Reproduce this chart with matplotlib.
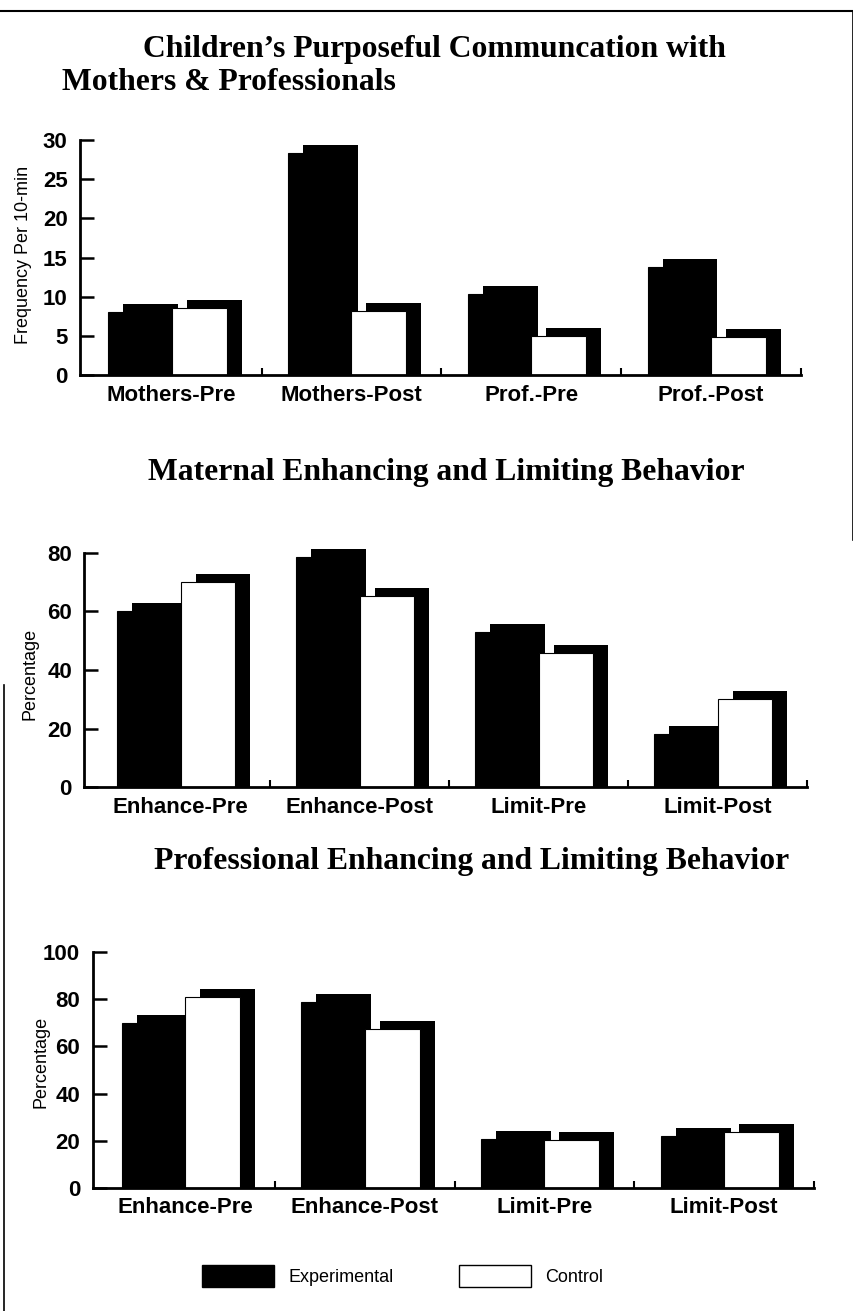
import numpy as np
import matplotlib
matplotlib.use('Agg')
import matplotlib.pyplot as plt
from matplotlib.transforms import ScaledTranslation
from matplotlib.patches import Patch
from matplotlib.lines import Line2D

W, H, DPI = 854, 1311, 100

# data
mother_groups = ['Mothers-Pre', 'Mothers-Post', 'Prof.-Pre', 'Prof.-Post']
comm_exp = [8.1, 28.3, 10.3, 13.8]
comm_ctl = [8.6, 8.2, 5.0, 4.9]

behav_groups = ['Enhance-Pre', 'Enhance-Post', 'Limit-Pre', 'Limit-Post']
maternal_exp = [60.0, 78.5, 53.0, 18.2]
maternal_ctl = [70.0, 65.3, 45.7, 30.1]
prof_exp = [70.1, 78.8, 20.6, 22.0]
prof_ctl = [81.2, 67.4, 20.3, 23.5]

plt.rcParams['font.family'] = 'Liberation Sans'

fig = plt.figure(figsize=(W / DPI, H / DPI), dpi=DPI)


def panel(box, xl, groups, exp, ctl, ymax, ystep, ylabel, label_xy):
    """Bar panel with the old 'drop shadow' look"""
    l, t, r, b = box
    ax = fig.add_axes([l / W, 1 - b / H, (r - l) / W, (b - t) / H])
    x = np.arange(len(groups))
    w = 0.305
    up = ScaledTranslation(15 / DPI, 8 / DPI, fig.dpi_scale_trans)
    side = ScaledTranslation(15 / DPI, 0, fig.dpi_scale_trans)
    for vals, left, face in [(exp, x - 0.353, 'black'), (ctl, x, 'white')]:
        for off in (up, side):
            ax.bar(left, vals, width=w, align='edge', color='black',
                   linewidth=0, transform=ax.transData + off, clip_on=False)
        ax.bar(left, vals, width=w, align='edge', facecolor=face,
               edgecolor='black', linewidth=0.8)
    ax.set_xlim(xl, 3.5)
    ax.set_ylim(0, ymax)
    for s in ('top', 'right'):
        ax.spines[s].set_visible(False)
    for s in ('left', 'bottom'):
        ax.spines[s].set_linewidth(2)
    ax.set_xticks(x, groups)
    ax.set_xticks(x + 0.5, minor=True)
    ax.tick_params(axis='x', which='major', length=0, pad=7, labelsize=16)
    ax.tick_params(axis='x', which='minor', direction='in', length=5, width=1.5)
    ax.set_yticks(np.arange(0, ymax + 1, ystep))
    ax.tick_params(axis='y', direction='in', length=10, width=1.8, pad=9,
                   labelsize=16)
    for lab in ax.get_xticklabels() + ax.get_yticklabels():
        lab.set_fontweight('bold')
    fig.text(label_xy[0] / W, 1 - label_xy[1] / H, ylabel, rotation=90,
             ha='center', va='center', fontsize=13)
    return ax


panel((80, 140, 801, 375), -0.51, mother_groups, comm_exp, comm_ctl, 30, 5,
      'Frequency Per 10-min', (24, 255))
panel((84.4, 552.7, 807, 787.3), -0.537, behav_groups, maternal_exp,
      maternal_ctl, 80, 20, 'Percentage', (30, 674))
panel((92.6, 952.3, 814, 1187.7), -0.514, behav_groups, prof_exp, prof_ctl,
      100, 20, 'Percentage', (41, 1062))

title_kw = dict(fontfamily='Liberation Serif', fontweight='bold',
                fontsize=22.8, va='baseline', ha='left')
fig.text(143 / W, 1 - 57 / H, 'Children’s Purposeful Communcation with', **title_kw)
fig.text(62 / W, 1 - 90 / H, 'Mothers & Professionals', **title_kw)
fig.text(148 / W, 1 - 480 / H, 'Maternal Enhancing and Limiting Behavior', **title_kw)
fig.text(154 / W, 1 - 869 / H, 'Professional Enhancing and Limiting Behavior', **title_kw)

handles = [Patch(facecolor='black', edgecolor='black', label='Experimental'),
           Patch(facecolor='white', edgecolor='black', linewidth=1, label='Control')]
fig.legend(handles=handles, ncol=2, loc='center left',
           bbox_to_anchor=(202 / W, 1 - 1276 / H), frameon=False, fontsize=13,
           handlelength=4.0, handleheight=1.55, handletextpad=0.8,
           columnspacing=3.6, borderpad=0, borderaxespad=0)

# page frame from the scan
fig.add_artist(Line2D([0, 853 / W], [1 - 11 / H] * 2, color='black', lw=1.5))
fig.add_artist(Line2D([853 / W] * 2, [1 - 11 / H, 1 - 540 / H], color='black', lw=1.2))
fig.add_artist(Line2D([4 / W] * 2, [1 - 685 / H, 0], color='black', lw=1.2))

fig.savefig('out.png', dpi=DPI)
